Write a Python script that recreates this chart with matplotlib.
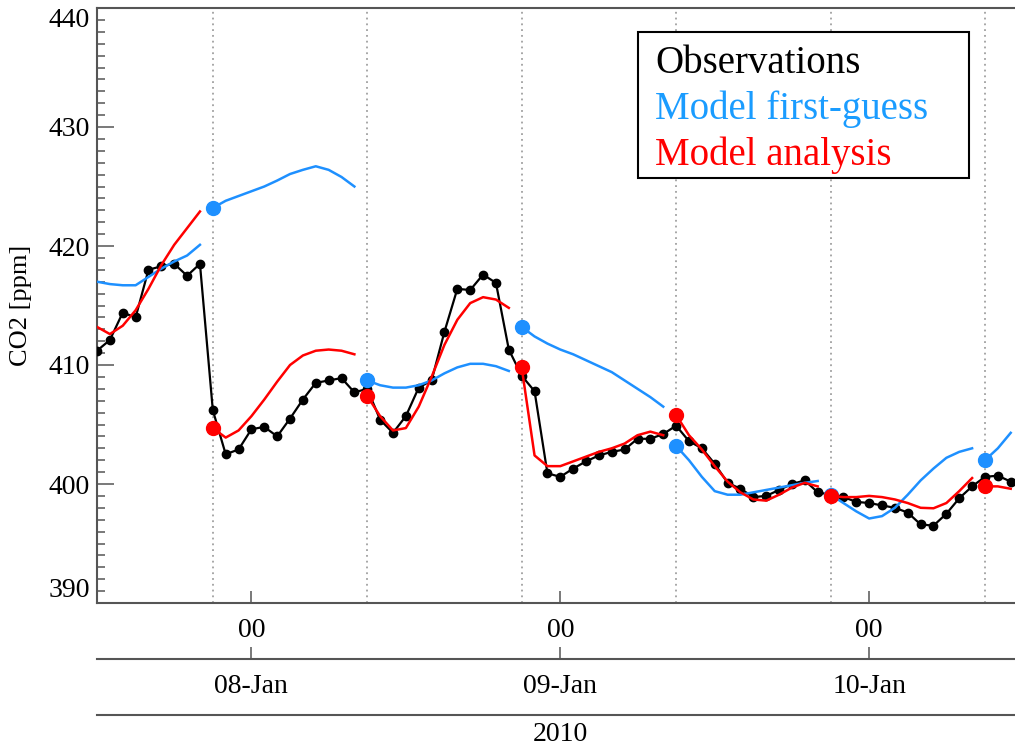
import matplotlib.pyplot as plt
import pandas as pd

plt.rcParams['font.family'] = ['Liberation Serif', 'DejaVu Serif']

# hourly observations from 07-Jan 12:00
OBS_START = '2010-01-07 12:00'
obs_values = [
    411.2, 412.1, 414.4, 414.0, 418.0, 418.3, 418.5, 417.5, 418.5, 406.2, 402.5, 402.9,
    404.6, 404.8, 404.0, 405.5, 407.1, 408.5, 408.7, 408.9, 407.7, 408.0, 405.4, 404.3,
    405.7, 408.1, 408.7, 412.8, 416.4, 416.3, 417.6, 416.9, 411.3, 409.1, 407.8, 400.9,
    400.6, 401.3, 401.9, 402.4, 402.7, 402.9, 403.8, 403.8, 404.2, 404.9, 403.6, 403.0,
    401.7, 400.1, 399.6, 398.9, 399.0, 399.5, 400.0, 400.3, 399.3, 399.1, 398.9, 398.5,
    398.4, 398.2, 398.0, 397.6, 396.6, 396.5, 397.5, 398.8, 399.8, 400.6, 400.7, 400.2,
]

# 12-hour model runs, hourly values from each start time
fg_starts = ['2010-01-07 12:00', '2010-01-07 21:00', '2010-01-08 09:00',
             '2010-01-08 21:00', '2010-01-09 09:00', '2010-01-09 21:00',
             '2010-01-10 09:00']
fg_values = [
    [417.0, 416.8, 416.7, 416.7, 417.4, 418.1, 418.7, 419.2, 420.1],
    [423.2, 423.8, 424.2, 424.6, 425.0, 425.5, 426.05, 426.4, 426.7, 426.4, 425.8, 425.0],
    [408.7, 408.3, 408.1, 408.1, 408.3, 408.7, 409.3, 409.8, 410.1, 410.1, 409.9, 409.5],
    [413.2, 412.4, 411.8, 411.3, 410.9, 410.4, 409.9, 409.4, 408.7, 408.0, 407.3, 406.5],
    [403.2, 402.0, 400.6, 399.4, 399.1, 399.1, 399.3, 399.5, 399.7, 399.9, 400.1, 400.25],
    [399.1, 398.4, 397.7, 397.1, 397.3, 398.0, 399.1, 400.3, 401.3, 402.2, 402.7, 403.0],
    [402.0, 403.0, 404.3],
]

an_starts = fg_starts
an_values = [
    [413.2, 412.6, 413.3, 414.6, 416.4, 418.4, 420.1, 421.5, 422.9],
    [404.7, 403.9, 404.5, 405.7, 407.1, 408.6, 410.0, 410.8, 411.2, 411.3, 411.2, 410.9],
    [407.4, 405.7, 404.5, 404.7, 406.5, 409.0, 411.7, 413.8, 415.2, 415.7, 415.5, 414.8],
    [409.8, 402.4, 401.5, 401.5, 401.9, 402.3, 402.7, 403.0, 403.4, 404.1, 404.4, 404.1],
    [405.8, 404.1, 402.9, 401.5, 400.2, 399.3, 398.7, 398.6, 399.1, 399.7, 400.1, 399.8],
    [399.0, 398.9, 398.9, 399.0, 398.9, 398.7, 398.4, 398.0, 397.96, 398.4, 399.4, 400.5],
    [399.8, 399.8, 399.6],
]

analysis_lines = pd.date_range('2010-01-07 21:00', '2010-01-10 09:00', freq='12h')
days = pd.date_range('2010-01-08', '2010-01-10', freq='D')
day_labels = ['08-Jan', '09-Jan', '10-Jan']

BLUE = '#1E90FF'
RED = '#FF0000'
AXIS_GREY = '#555555'
XLIM = (pd.Timestamp('2010-01-07 12:00'), pd.Timestamp('2010-01-10 11:20'))
LABEL_SIZE = 20

fig = plt.figure(figsize=(10.15, 7.5), dpi=100)
rect = [97 / 1015, 147 / 750, 918 / 1015, 595 / 750]
ax = fig.add_axes(rect)

for t in analysis_lines:
    ax.axvline(t, color='#a0a0a0', linestyle=(0, (1, 2.2)), linewidth=1.3, zorder=1)

obs_time = pd.date_range(OBS_START, periods=len(obs_values), freq='h')
ax.plot(obs_time, obs_values, color='black', linewidth=1.6, marker='o',
        markersize=6, zorder=3)


def draw_runs(starts, values, color):
    for start, vals in zip(starts, values):
        t = pd.date_range(start, periods=len(vals), freq='h')
        ax.plot(t, vals, color=color, linewidth=1.8, zorder=4)
        if t[0].hour in (9, 21):
            ax.plot(t[:1], vals[:1], 'o', color=color, markersize=10, zorder=5)


draw_runs(fg_starts, fg_values, BLUE)
draw_runs(an_starts, an_values, RED)

ax.set_xlim(*XLIM)
ax.set_ylim(390, 440)
ax.set_ylabel('CO2 [ppm]', fontsize=19, labelpad=12)

for side in ['left', 'top', 'bottom']:
    ax.spines[side].set_color(AXIS_GREY)
    ax.spines[side].set_linewidth(1.5)
ax.spines['right'].set_visible(False)

ax.yaxis.set_major_locator(plt.MultipleLocator(10))
ax.yaxis.set_minor_locator(plt.MultipleLocator(1))
ax.tick_params(axis='y', which='major', direction='in', length=12, width=1.1,
               color=AXIS_GREY, labelsize=LABEL_SIZE, pad=5)
ax.tick_params(axis='y', which='minor', direction='in', length=6, width=1.1,
               color=AXIS_GREY)
fig.canvas.draw()
for lab in ax.get_yticklabels():
    if lab.get_text() == '440':
        lab.set_verticalalignment('top')
    elif lab.get_text() == '390':
        lab.set_verticalalignment('bottom')

ax.set_xticks(days)
ax.set_xticklabels(['00'] * len(days))
ax.tick_params(axis='x', which='major', direction='in', length=8.5, width=1.1,
               color=AXIS_GREY, labelsize=LABEL_SIZE, pad=11)
ax.tick_params(axis='x', which='minor', length=0)


def stacked_axis(bottom_px, ticks, labels, tick_len, pad):
    a = fig.add_axes([rect[0], (750 - bottom_px) / 750, rect[2], 0.001])
    a.patch.set_visible(False)
    for side in ['left', 'top', 'right']:
        a.spines[side].set_visible(False)
    a.spines['bottom'].set_color(AXIS_GREY)
    a.spines['bottom'].set_linewidth(1.5)
    a.set_xlim(*XLIM)
    a.set_yticks([])
    a.set_xticks(ticks)
    a.set_xticklabels(labels)
    a.tick_params(axis='x', which='major', direction='in', length=tick_len,
                  width=1.1, color=AXIS_GREY, labelsize=LABEL_SIZE, pad=pad)
    a.tick_params(axis='x', which='minor', length=0)
    return a


stacked_axis(659, days, day_labels, 8.5, 11)
stacked_axis(715, [pd.Timestamp('2010-01-09')], ['2010'], 0, 5)

# legend box with coloured labels
fig.add_artist(plt.Rectangle((638 / 1015, (750 - 178) / 750), 331 / 1015, 146 / 750,
                             transform=fig.transFigure, facecolor='white',
                             edgecolor='black', linewidth=1.5, zorder=10))
for text, color, base in [('Observations', 'black', 73),
                          ('Model first-guess', '#1A9CFF', 119),
                          ('Model analysis', RED, 165)]:
    fig.text(655 / 1015, (750 - base) / 750, text, color=color, fontsize=28,
             va='baseline', ha='left', zorder=11)

fig.savefig('out.png', dpi=100)
